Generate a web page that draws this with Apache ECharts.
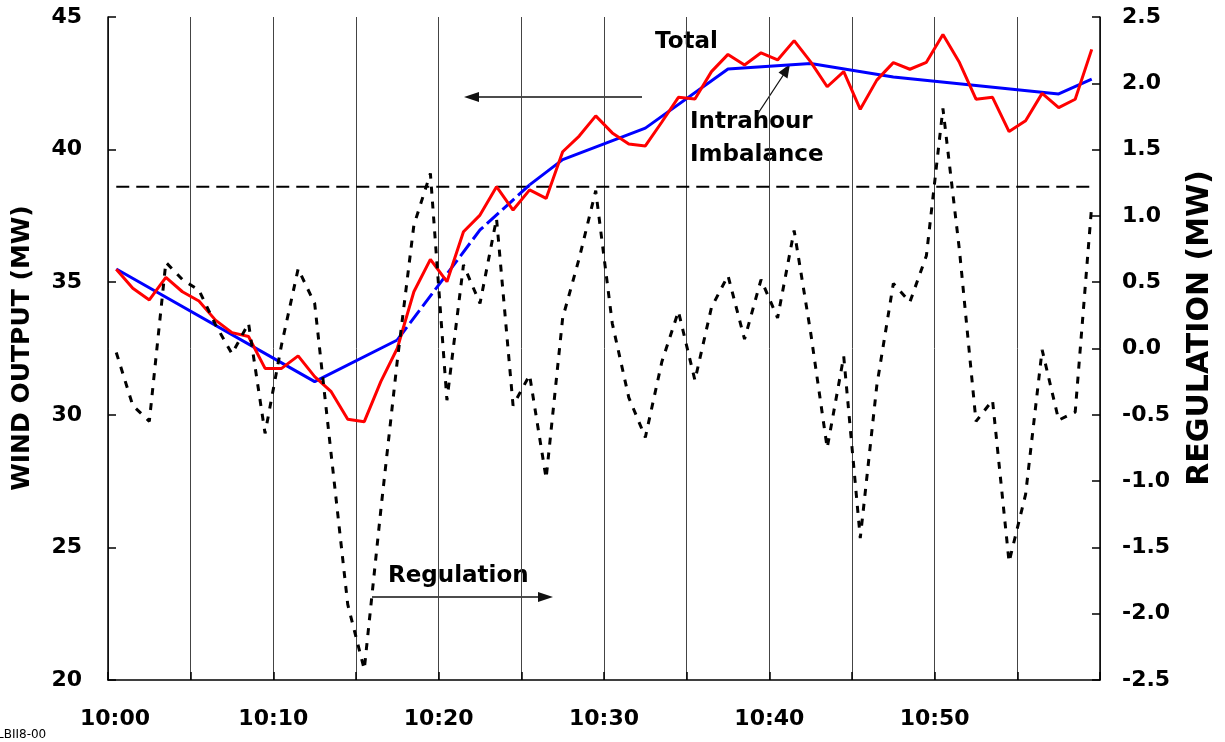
<!DOCTYPE html>
<html>
<head>
<meta charset="utf-8">
<script src="https://cdn.jsdelivr.net/npm/echarts@6/dist/echarts.min.js"></script>
<style>
  html, body { margin: 0; padding: 0; background: #fff; }
  #chart { width: 1225px; height: 742px; }
</style>
</head>
<body>
<div id="chart"></div>
<script>
// One-minute samples from 10:00 to 10:59
const totalMW = [
  35.49, 34.77, 34.33, 35.18, 34.64, 34.29, 33.57, 33.10, 32.95, 31.75,
  31.75, 32.22, 31.44, 30.87, 29.83, 29.74, 31.25, 32.51, 34.64, 35.86,
  35.02, 36.90, 37.53, 38.60, 37.72, 38.48, 38.16, 39.92, 40.51, 41.27,
  40.63, 40.21, 40.14, 41.04, 41.97, 41.91, 42.94, 43.59, 43.19, 43.65,
  43.38, 44.11, 43.31, 42.37, 42.94, 41.52, 42.62, 43.28, 43.03, 43.29,
  44.34, 43.28, 41.90, 41.97, 40.68, 41.09, 42.12, 41.58, 41.90, 43.78
];
const regulationMW = [
  -0.03, -0.43, -0.55, 0.65, 0.52, 0.44, 0.18, -0.04, 0.19, -0.64,
  0.03, 0.60, 0.34, -0.80, -1.93, -2.42, -1.22, -0.09, 0.93, 1.32,
  -0.39, 0.63, 0.34, 0.98, -0.43, -0.20, -0.98, 0.23, 0.68, 1.19,
  0.19, -0.37, -0.67, -0.10, 0.28, -0.24, 0.31, 0.55, 0.07, 0.52,
  0.23, 0.89, 0.12, -0.75, -0.06, -1.43, -0.28, 0.49, 0.35, 0.70,
  1.81, 0.74, -0.55, -0.39, -1.61, -1.10, -0.01, -0.54, -0.48, 1.08
];
// Intrahour imbalance: straight segments between these sample minutes
const imbalanceMinute = [0, 12, 17, 22, 25, 27, 32, 37, 42, 47, 57, 59];
const imbalanceMW = [35.50, 31.25, 32.82, 36.97, 38.67, 39.62, 40.81, 43.04, 43.25, 42.74, 42.10, 42.66];
// Dashed reference level (MW)
const referenceLevelMW = 38.6;
// Time axis: minutes after 10:00
const timeTicks = [0, 10, 20, 30, 40, 50];
const timeLabels = ['10:00', '10:10', '10:20', '10:30', '10:40', '10:50'];

// each one-minute sample sits at the middle of its minute
const at = (minute) => minute + 0.5;
const totalPts = totalMW.map((v, i) => [at(i), v]);
const regPts = regulationMW.map((v, i) => [at(i), v]);
const imbPts = imbalanceMinute.map((m, k) => [at(m), imbalanceMW[k]]);
const imbPart = (from, to) => imbPts.filter((p, k) => imbalanceMinute[k] >= from && imbalanceMinute[k] <= to);
const refPts = [[at(0), referenceLevelMW], [at(totalMW.length - 1), referenceLevelMW]];

const FONT = 'DejaVu Sans';
const boldText = { fontFamily: FONT, fontWeight: 'bold', fontSize: 22, color: '#000' };

const chart = echarts.init(document.getElementById('chart'), null, { renderer: 'canvas' });

const arrowHead = (tip, base1, base2) => ({
  type: 'polygon', silent: true,
  shape: { points: [tip, base1, base2] },
  style: { fill: '#111' }
});
const note = (text, x, y) => ({
  type: 'text', x: x, y: y, silent: true,
  style: { text: text, font: 'bold 23px "DejaVu Sans"', fill: '#000', textAlign: 'left', textVerticalAlign: 'middle' }
});
const axisTitle = (text, x, y, size) => ({
  type: 'text', x: x, y: y, rotation: Math.PI / 2, silent: true,
  style: { text: text, font: 'bold ' + size + 'px "DejaVu Sans"', fill: '#000', textAlign: 'center', textVerticalAlign: 'middle' }
});

chart.setOption({
  animation: false,
  backgroundColor: '#fff',
  grid: { left: 108, right: 125, top: 17, bottom: 62 },
  xAxis: {
    type: 'value', min: 0, max: 60, interval: 5,
    axisLine: { show: true, onZero: false, lineStyle: { color: '#000', width: 1.5 } },
    axisTick: { show: true, inside: true, length: 8, lineStyle: { color: '#000', width: 1.5 } },
    splitLine: { show: true, lineStyle: { color: '#444', width: 1 } },
    axisLabel: {
      margin: 28,
      ...boldText,
      formatter: (v) => {
        const k = timeTicks.indexOf(v);
        if (k < 0) return '';
        return k === 0 ? '{first|' + timeLabels[k] + '}' : timeLabels[k];
      },
      rich: { first: { ...boldText, padding: [0, 0, 0, 14] } }
    }
  },
  yAxis: [
    {
      type: 'value', min: 20, max: 45, interval: 5, position: 'left',
      axisLine: { show: true, onZero: false, lineStyle: { color: '#000', width: 1.5 } },
      axisTick: { show: true, inside: true, length: 8, lineStyle: { color: '#000', width: 1.5 } },
      splitLine: { show: false },
      axisLabel: { margin: 26, ...boldText }
    },
    {
      type: 'value', min: -2.5, max: 2.5, interval: 0.5, position: 'right',
      axisLine: { show: true, onZero: false, lineStyle: { color: '#000', width: 1.5 } },
      axisTick: { show: true, inside: true, length: 8, lineStyle: { color: '#000', width: 1.5 } },
      splitLine: { show: false },
      axisLabel: { margin: 22, ...boldText, formatter: (v) => v.toFixed(1) }
    }
  ],
  series: [
    {
      name: 'Intrahour Imbalance', type: 'line', data: imbPart(0, 17), yAxisIndex: 0,
      showSymbol: false, symbol: 'none', lineStyle: { color: '#0000ff', width: 3 }, z: 3
    },
    {
      name: 'Intrahour Imbalance (ramp)', type: 'line', data: imbPart(17, 25), yAxisIndex: 0,
      showSymbol: false, symbol: 'none', lineStyle: { color: '#0000ff', width: 3, type: [16, 5] }, z: 3
    },
    {
      name: 'Intrahour Imbalance (late)', type: 'line', data: imbPart(25, 59), yAxisIndex: 0,
      showSymbol: false, symbol: 'none', lineStyle: { color: '#0000ff', width: 3 }, z: 3
    },
    {
      name: 'Total', type: 'line', data: totalPts, yAxisIndex: 0,
      showSymbol: false, symbol: 'none', lineStyle: { color: '#ff0000', width: 3 }, z: 4
    },
    {
      name: 'Level', type: 'line', data: refPts, yAxisIndex: 0,
      showSymbol: false, symbol: 'none', lineStyle: { color: '#000', width: 2, type: [13, 7] }, z: 2
    },
    {
      name: 'Regulation', type: 'line', data: regPts, yAxisIndex: 1,
      showSymbol: false, symbol: 'none', lineStyle: { color: '#000', width: 3, type: [7, 8] }, z: 5
    }
  ],
  graphic: [
    axisTitle('WIND OUTPUT (MW)', 22, 348, 25),
    axisTitle('REGULATION (MW)', 1200, 328, 30),

    note('Total', 655, 42),
    { type: 'line', silent: true, shape: { x1: 642, y1: 97, x2: 477, y2: 97 }, style: { stroke: '#111', lineWidth: 1.3 } },
    arrowHead([464, 97], [479, 92], [479, 102]),

    note('Intrahour', 690, 122),
    note('Imbalance', 690, 155),
    { type: 'line', silent: true, shape: { x1: 757, y1: 115, x2: 784, y2: 74 }, style: { stroke: '#111', lineWidth: 1.3 } },
    arrowHead([790, 64], [787.5, 78.5], [778.5, 72.5]),

    note('Regulation', 388, 576),
    { type: 'line', silent: true, shape: { x1: 372, y1: 597, x2: 540, y2: 597 }, style: { stroke: '#111', lineWidth: 1.3 } },
    arrowHead([553, 597], [538, 592], [538, 602]),

    { type: 'text', x: -3, y: 735, silent: true, style: { text: 'LBII8-00', font: '12px "DejaVu Sans"', fill: '#000', textVerticalAlign: 'middle' } }
  ]
});
</script>
</body>
</html>
